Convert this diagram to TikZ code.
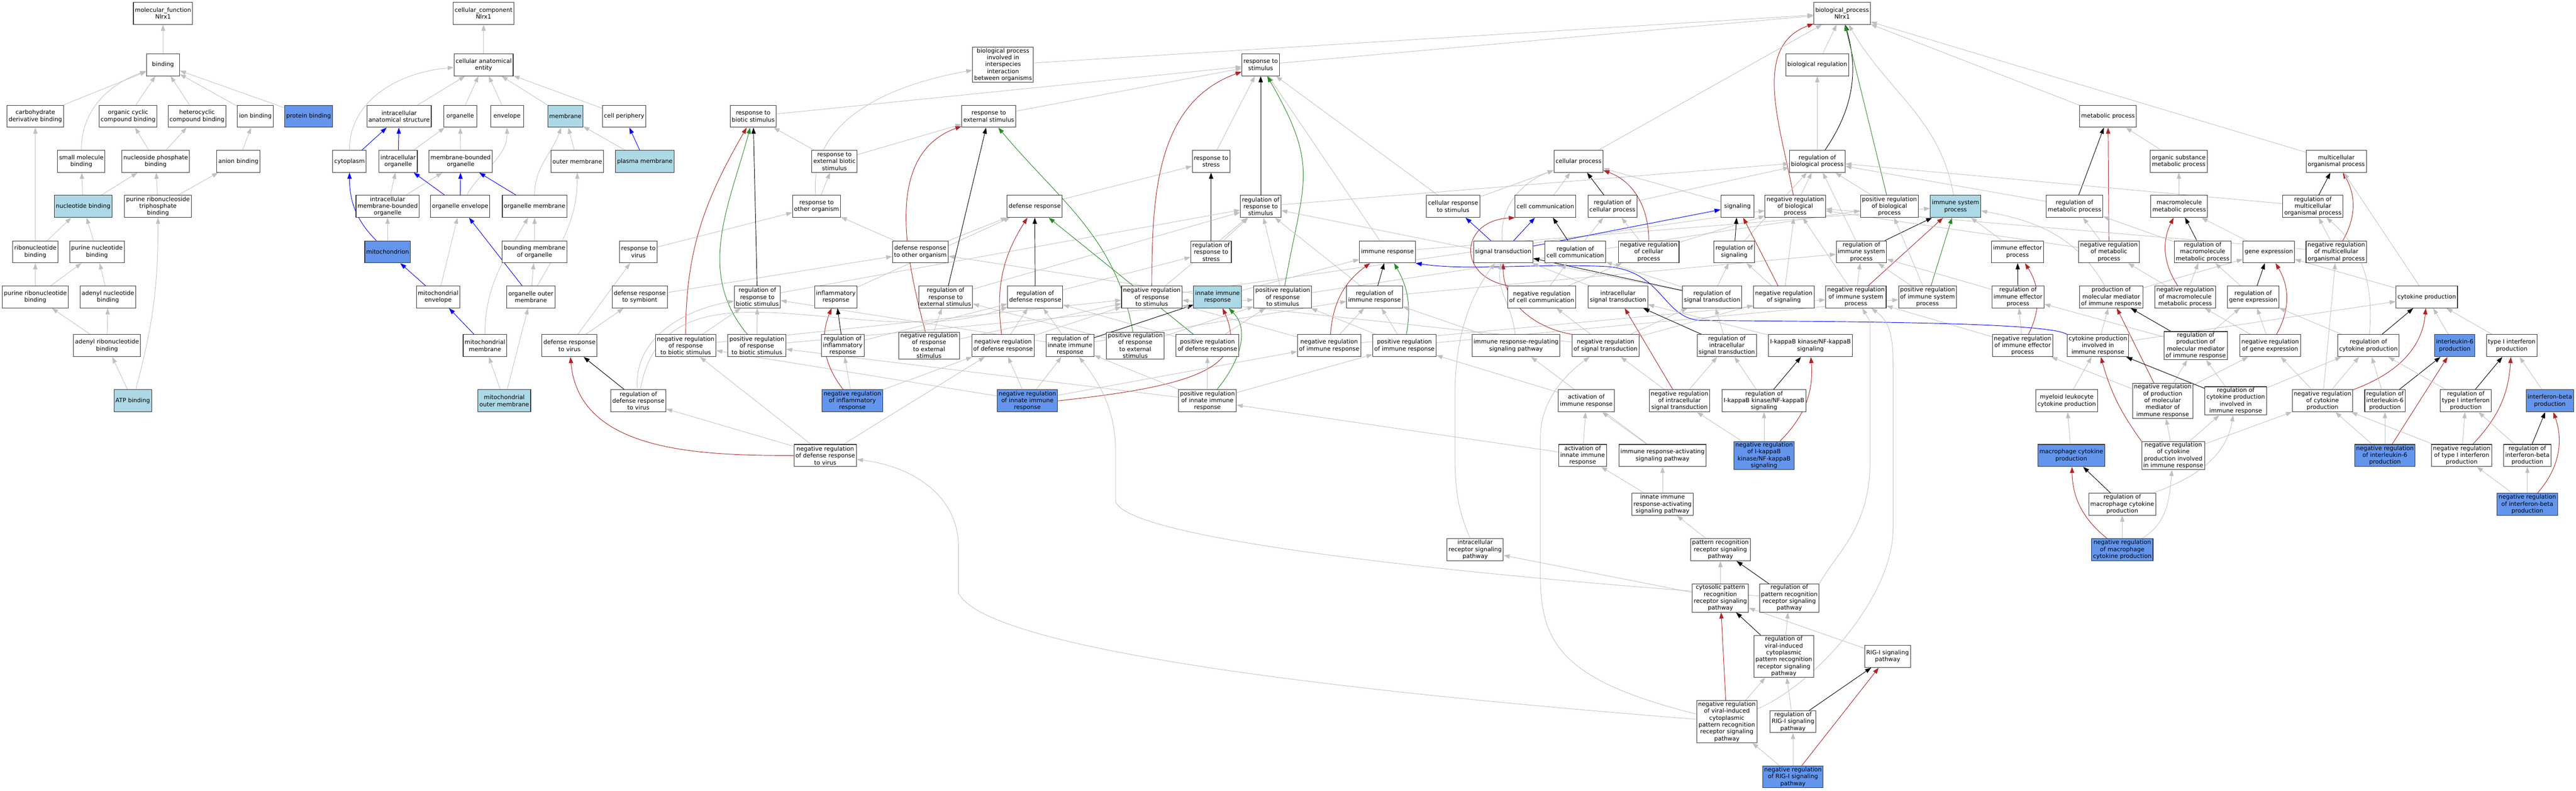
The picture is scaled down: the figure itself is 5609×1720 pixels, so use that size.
\documentclass[tikz,border=0pt]{standalone}
\usepackage{fontspec}
\newfontfamily\gofont{DejaVu Sans}
\usepackage{tikz}
\usetikzlibrary{arrows.meta,backgrounds}
\definecolor{lightblue}{HTML}{ADD8E6}
\definecolor{cornflower}{HTML}{6495ED}
\definecolor{firebrick}{HTML}{B22222}
\definecolor{forestgreen}{HTML}{228B22}
\definecolor{edgegray}{HTML}{C0C0C0}

\begin{document}
\begin{tikzpicture}[
      x=0.75pt, y=0.75pt,
      >={Triangle[length=10pt,width=7pt]}
    ]

    \tikzstyle{box} = [rectangle, draw=black!80, line width=0.9pt, fill=white, align=center, minimum width=54pt, minimum height=36pt, inner xsep=2.5pt, inner ysep=1.5pt, font=\gofont\fontsize{9.6}{11.25}\selectfont]
    \tikzstyle{lightbox} = [box, fill=lightblue]
    \tikzstyle{darkbox} = [box, fill=cornflower]

    \tikzstyle{isa} = [->, draw=edgegray, line width=0.75pt]
    \tikzstyle{partof} = [->, draw=blue, line width=0.8pt]
    \tikzstyle{regul} = [->, draw=black, line width=0.8pt]
    \tikzstyle{negreg} = [->, draw=firebrick, line width=0.8pt]
    \tikzstyle{posreg} = [->, draw=forestgreen, line width=0.8pt]

    \useasboundingbox (0,0) rectangle (5609,-1720);

    % molecular function
    \node [box] (molFunction) at (355,-29) {molecular\_function\\Nlrx1};
    \node [box] (binding) at (355,-141) {binding};
    \node [box] (carbDeriv) at (77,-253) {carbohydrate\\derivative binding};
    \node [box] (orgCyclic) at (279,-253) {organic cyclic\\compound binding};
    \node [box] (heteroCyclic) at (429,-253) {heterocyclic\\compound binding};
    \node [box] (ionBinding) at (556,-253) {ion binding};
    \node [darkbox] (proteinBinding) at (672,-253) {protein binding};
    \node [box] (smallMol) at (177,-351) {small molecule\\binding};
    \node [box] (nucPhos) at (339,-351) {nucleoside phosphate\\binding};
    \node [box] (anionBinding) at (519,-351) {anion binding};
    \node [lightbox] (nucleotide) at (181,-449) {nucleotide binding};
    \node [box] (purineTriP) at (344,-449) {purine ribonucleoside\\triphosphate\\binding};
    \node [box] (riboNuc) at (77,-548) {ribonucleotide\\binding};
    \node [box] (purineNuc) at (211,-548) {purine nucleotide\\binding};
    \node [box] (purineRibo) at (77,-646) {purine ribonucleotide\\binding};
    \node [box] (adenylNuc) at (235,-646) {adenyl nucleotide\\binding};
    \node [box] (adenylRibo) at (233,-752) {adenyl ribonucleotide\\binding};
    \node [lightbox] (atpBinding) at (289,-872) {ATP binding};

    % cellular component
    \node [box] (cellComp) at (1053,-29) {cellular\_component\\Nlrx1};
    \node [box] (cellAnat) at (1053,-141) {cellular anatomical\\entity};
    \node [box] (intraAnat) at (869,-253) {intracellular\\anatomical structure};
    \node [box] (organelle) at (1002,-253) {organelle};
    \node [box] (envelope) at (1104,-253) {envelope};
    \node [lightbox] (membrane) at (1231,-253) {membrane};
    \node [box] (cellPeriph) at (1359,-253) {cell periphery};
    \node [box] (cytoplasm) at (761,-351) {cytoplasm};
    \node [box] (intraOrg) at (867,-351) {intracellular\\organelle};
    \node [box] (memOrg) at (1003,-351) {membrane-bounded\\organelle};
    \node [box] (outerMem) at (1257,-351) {outer membrane};
    \node [lightbox] (plasmaMem) at (1404,-351) {plasma membrane};
    \node [box] (intraMemOrg) at (844,-449) {intracellular\\membrane-bounded\\organelle};
    \node [box] (orgEnv) at (1002,-449) {organelle envelope};
    \node [box] (orgMem) at (1164,-449) {organelle membrane};
    \node [darkbox] (mitochondrion) at (844,-548) {mitochondrion};
    \node [box] (boundMem) at (1164,-548) {bounding membrane\\of organelle};
    \node [box] (mitoEnv) at (954,-646) {mitochondrial\\envelope};
    \node [box] (orgOuter) at (1156,-646) {organelle outer\\membrane};
    \node [box] (mitoMem) at (1056,-752) {mitochondrial\\membrane};
    \node [lightbox] (mitoOuter) at (1098,-872) {mitochondrial\\outer membrane};

    % biological process
    \node [box] (bioProcess) at (4011,-29) {biological\_process\\Nlrx1};
    \node [box] (bioReg) at (3957,-141) {biological regulation};
    \node [box] (interSpecies) at (2184,-141) {biological process\\involved in\\interspecies\\interaction\\between organisms};
    \node [box] (respStim) at (2745,-141) {response to\\stimulus};
    \node [box] (respBiotic) at (1640,-253) {response to\\biotic stimulus};
    \node [box] (respExt) at (2153,-253) {response to\\external stimulus};
    \node [box] (metabolic) at (4590,-253) {metabolic process};
    \node [box] (respExtBiotic) at (1817,-351) {response to\\external biotic\\stimulus};
    \node [box] (respStress) at (2637,-351) {response to\\stress};
    \node [box] (cellProc) at (3437,-351) {cellular process};
    \node [box] (regBio) at (3957,-351) {regulation of\\biological process};
    \node [box] (orgSubst) at (4744,-351) {organic substance\\metabolic process};
    \node [box] (multiCell) at (5087,-351) {multicellular\\organismal process};
    \node [box] (respOther) at (1778,-449) {response to\\other organism};
    \node [box] (defResp) at (2253,-449) {defense response};
    \node [box] (regRespStim) at (2745,-449) {regulation of\\response to\\stimulus};
    \node [box] (cellResp) at (3164,-449) {cellular response\\to stimulus};
    \node [box] (cellComm) at (3365,-449) {cell communication};
    \node [box] (regCellProc) at (3511,-449) {regulation of\\cellular process};
    \node [box] (signaling) at (3783,-449) {signaling};
    \node [box] (negBio) at (3909,-449) {negative regulation\\of biological\\process};
    \node [box] (posBio) at (4114,-449) {positive regulation\\of biological\\process};
    \node [lightbox] (immSys) at (4258,-449) {immune system\\process};
    \node [box] (regMetab) at (4517,-449) {regulation of\\metabolic process};
    \node [box] (macroMetab) at (4745,-449) {macromolecule\\metabolic process};
    \node [box] (regMulti) at (5036,-449) {regulation of\\multicellular\\organismal process};
    \node [box] (respVirus) at (1390,-548) {response to\\virus};
    \node [box] (defOther) at (2004,-548) {defense response\\to other organism};
    \node [box] (regRespStress) at (2637,-548) {regulation of\\response to\\stress};
    \node [box] (immResp) at (3021,-548) {immune response};
    \node [box] (sigTrans) at (3273,-548) {signal transduction};
    \node [box] (regCellComm) at (3430,-548) {regulation of\\cell communication};
    \node [box] (negCellProc) at (3590,-548) {negative regulation\\of cellular\\process};
    \node [box] (regSignaling) at (3776,-548) {regulation of\\signaling};
    \node [box] (regImmSys) at (4053,-548) {regulation of\\immune system\\process};
    \node [box] (immEff) at (4393,-548) {immune effector\\process};
    \node [box] (negMetab) at (4592,-548) {negative regulation\\of metabolic\\process};
    \node [box] (regMacro) at (4796,-548) {regulation of\\macromolecule\\metabolic process};
    \node [box] (geneExpr) at (4940,-548) {gene expression};
    \node [box] (negMulti) at (5087,-548) {negative regulation\\of multicellular\\organismal process};
    \node [box] (defSymb) at (1393,-646) {defense response\\to symbiont};
    \node [box] (regRespBiotic) at (1649,-646) {regulation of\\response to\\biotic stimulus};
    \node [box] (inflam) at (1820,-646) {inflammatory\\response};
    \node [box] (regRespExt) at (2059,-646) {regulation of\\response to\\external stimulus};
    \node [box] (regDef) at (2254,-646) {regulation of\\defense response};
    \node [box] (negRespStim) at (2508,-646) {negative regulation\\of response\\to stimulus};
    \node [lightbox] (innate) at (2651,-646) {innate immune\\response};
    \node [box] (posRespStim) at (2793,-646) {positive regulation\\of response\\to stimulus};
    \node [box] (regImmResp) at (2993,-646) {regulation of\\immune response};
    \node [box] (negCellComm) at (3357,-646) {negative regulation\\of cell communication};
    \node [box] (intraSig) at (3523,-646) {intracellular\\signal transduction};
    \node [box] (regSigTrans) at (3728,-646) {regulation of\\signal transduction};
    \node [box] (negSignaling) at (3884,-646) {negative regulation\\of signaling};
    \node [box] (negImmSys) at (4041,-646) {negative regulation\\of immune system\\process};
    \node [box] (posImmSys) at (4197,-646) {positive regulation\\of immune system\\process};
    \node [box] (regImmEff) at (4394,-646) {regulation of\\immune effector\\process};
    \node [box] (prodMed) at (4597,-646) {production of\\molecular mediator\\of immune response};
    \node [box] (negMacro) at (4758,-646) {negative regulation\\of macromolecule\\metabolic process};
    \node [box] (regGene) at (4906,-646) {regulation of\\gene expression};
    \node [box] (cytokine) at (5284,-646) {cytokine production};
    \node [box] (defVirus) at (1240,-752) {defense response\\to virus};
    \node [box] (negRespBiotic) at (1493,-752) {negative regulation\\of response\\to biotic stimulus};
    \node [box] (posRespBiotic) at (1648,-752) {positive regulation\\of response\\to biotic stimulus};
    \node [box] (regInflam) at (1835,-752) {regulation of\\inflammatory\\response};
    \node [box] (negRespExt) at (2023,-752) {negative regulation\\of response\\to external\\stimulus};
    \node [box] (negDef) at (2184,-752) {negative regulation\\of defense response};
    \node [box] (regInnate) at (2330,-752) {regulation of\\innate immune\\response};
    \node [box] (posRespExt) at (2472,-752) {positive regulation\\of response\\to external\\stimulus};
    \node [box] (posDef) at (2629,-752) {positive regulation\\of defense response};
    \node [box] (negImmResp) at (2894,-752) {negative regulation\\of immune response};
    \node [box] (posImmResp) at (3058,-752) {positive regulation\\of immune response};
    \node [box] (irsPath) at (3301,-752) {immune response-regulating\\signaling pathway};
    \node [box] (negSigTrans) at (3496,-752) {negative regulation\\of signal transduction};
    \node [box] (regIntraSig) at (3760,-752) {regulation of\\intracellular\\signal transduction};
    \node [box] (ikkSig) at (3942,-752) {I-kappaB kinase/NF-kappaB\\signaling};
    \node [box] (negImmEff) at (4404,-752) {negative regulation\\of immune effector\\process};
    \node [box] (cytoImm) at (4568,-752) {cytokine production\\involved in\\immune response};
    \node [box] (regProdMed) at (4781,-752) {regulation of\\production of\\molecular mediator\\of immune response};
    \node [box] (negGene) at (4943,-752) {negative regulation\\of gene expression};
    \node [box] (regCyto) at (5157,-752) {regulation of\\cytokine production};
    \node [darkbox] (ilSix) at (5345,-752) {interleukin-6\\production};
    \node [box] (typeOne) at (5469,-752) {type I interferon\\production};
    \node [box] (regDefVirus) at (1390,-872) {regulation of\\defense response\\to virus};
    \node [darkbox] (negInflam) at (1856,-872) {negative regulation\\of inflammatory\\response};
    \node [darkbox] (negInnate) at (2237,-872) {negative regulation\\of innate immune\\response};
    \node [box] (posInnate) at (2629,-872) {positive regulation\\of innate immune\\response};
    \node [box] (actImm) at (3454,-872) {activation of\\immune response};
    \node [box] (negIntraSig) at (3657,-872) {negative regulation\\of intracellular\\signal transduction};
    \node [box] (regIkk) at (3841,-872) {regulation of\\I-kappaB kinase/NF-kappaB\\signaling};
    \node [box] (myeloid) at (4500,-872) {myeloid leukocyte\\cytokine production};
    \node [box] (negProdMed) at (4709,-872) {negative regulation\\of production\\of molecular\\mediator of\\immune response};
    \node [box] (regCytoImm) at (4868,-872) {regulation of\\cytokine production\\involved in\\immune response};
    \node [box] (negCyto) at (5057,-872) {negative regulation\\of cytokine\\production};
    \node [box] (regIlSix) at (5193,-872) {regulation of\\interleukin-6\\production};
    \node [box] (regTypeOne) at (5369,-872) {regulation of\\type I interferon\\production};
    \node [darkbox] (ifnBeta) at (5552,-872) {interferon-beta\\production};
    \node [box] (negDefVirus) at (1797,-991) {negative regulation\\of defense response\\to virus};
    \node [box] (actInnate) at (3446,-991) {activation of\\innate immune\\response};
    \node [box] (iraPath) at (3620,-991) {immune response-activating\\signaling pathway};
    \node [darkbox] (negIkk) at (3841,-991) {negative regulation\\of I-kappaB\\kinase/NF-kappaB\\signaling};
    \node [darkbox] (macrophage) at (4510,-991) {macrophage cytokine\\production};
    \node [box] (negCytoImm) at (4732,-991) {negative regulation\\of cytokine\\production involved\\in immune response};
    \node [darkbox] (negIlSix) at (5193,-991) {negative regulation\\of interleukin-6\\production};
    \node [box] (negTypeOne) at (5360,-991) {negative regulation\\of type I interferon\\production};
    \node [box] (regIfnBeta) at (5503,-991) {regulation of\\interferon-beta\\production};
    \node [box] (innatePath) at (3620,-1097) {innate immune\\response-activating\\signaling pathway};
    \node [box] (regMacrophage) at (4621,-1097) {regulation of\\macrophage cytokine\\production};
    \node [darkbox] (negIfnBeta) at (5503,-1097) {negative regulation\\of interferon-beta\\production};
    \node [box] (intraRec) at (3212,-1196) {intracellular\\receptor signaling\\pathway};
    \node [box] (prrPath) at (3746,-1196) {pattern recognition\\receptor signaling\\pathway};
    \node [darkbox] (negMacrophage) at (4621,-1196) {negative regulation\\of macrophage\\cytokine production};
    \node [box] (cytoPrr) at (3746,-1301) {cytosolic pattern\\recognition\\receptor signaling\\pathway};
    \node [box] (regPrr) at (3896,-1301) {regulation of\\pattern recognition\\receptor signaling\\pathway};
    \node [box] (regViral) at (3884,-1428) {regulation of\\viral-induced\\cytoplasmic\\pattern recognition\\receptor signaling\\pathway};
    \node [box] (rigPath) at (4110,-1428) {RIG-I signaling\\pathway};
    \node [box] (negViral) at (3760,-1570) {negative regulation\\of viral-induced\\cytoplasmic\\pattern recognition\\receptor signaling\\pathway};
    \node [box] (regRig) at (3904,-1570) {regulation of\\RIG-I signaling\\pathway};
    \node [darkbox] (negRig) at (3904,-1690) {negative regulation\\of RIG-I signaling\\pathway};

    \begin{scope}[on background layer]
    % molecular function
    \draw [isa] (binding) -- (molFunction);
    \draw [isa] (carbDeriv) -- (binding);
    \draw [isa] (smallMol) to[out=90,in=200] (binding);
    \draw [isa] (orgCyclic) -- (binding);
    \draw [isa] (heteroCyclic) -- (binding);
    \draw [isa] (ionBinding) -- (binding);
    \draw [isa] (proteinBinding) -- (binding);
    \draw [isa] (nucPhos) -- (orgCyclic);
    \draw [isa] (nucPhos) -- (heteroCyclic);
    \draw [isa] (anionBinding) -- (ionBinding);
    \draw [isa] (nucleotide) -- (smallMol);
    \draw [isa] (nucleotide) -- (nucPhos);
    \draw [isa] (purineTriP) -- (nucPhos);
    \draw [isa] (purineTriP) -- (anionBinding);
    \draw [isa] (riboNuc) -- (carbDeriv);
    \draw [isa] (riboNuc) -- (nucleotide);
    \draw [isa] (purineNuc) -- (nucleotide);
    \draw [isa] (purineRibo) -- (riboNuc);
    \draw [isa] (purineRibo) -- (purineNuc);
    \draw [isa] (adenylNuc) -- (purineNuc);
    \draw [isa] (adenylRibo) -- (purineRibo);
    \draw [isa] (adenylRibo) -- (adenylNuc);
    \draw [isa] (atpBinding) -- (adenylRibo);
    \draw [isa] (atpBinding) to[out=75,in=-90] (purineTriP);

    % cellular component
    \draw [isa] (cellAnat) -- (cellComp);
    \draw [isa] (intraAnat) -- (cellAnat);
    \draw [isa] (organelle) -- (cellAnat);
    \draw [isa] (envelope) -- (cellAnat);
    \draw [isa] (membrane) -- (cellAnat);
    \draw [isa] (cellPeriph) -- (cellAnat);
    \draw [isa] (cytoplasm) to[out=90,in=185] (cellAnat);
    \draw [partof] (cytoplasm) -- (intraAnat);
    \draw [partof] (intraOrg) -- (intraAnat);
    \draw [isa] (intraOrg) -- (organelle);
    \draw [isa] (memOrg) -- (organelle);
    \draw [isa] (outerMem) -- (membrane);
    \draw [isa] (plasmaMem) -- (membrane);
    \draw [partof] (plasmaMem) -- (cellPeriph);
    \draw [isa] (intraMemOrg) -- (intraOrg);
    \draw [isa] (intraMemOrg) -- (memOrg);
    \draw [partof] (orgEnv) -- (intraOrg);
    \draw [partof] (orgEnv) -- (memOrg);
    \draw [isa] (orgEnv) to[out=60,in=-90] (envelope);
    \draw [partof] (orgMem) -- (memOrg);
    \draw [isa] (orgMem) to[out=90,in=-110] (membrane);
    \draw [isa] (boundMem) -- (orgMem);
    \draw [partof] (mitochondrion) to[out=135,in=-90] (cytoplasm);
    \draw [isa] (mitochondrion) -- (intraMemOrg);
    \draw [isa] (mitoEnv) -- (orgEnv);
    \draw [partof] (mitoEnv) -- (mitochondrion);
    \draw [partof] (orgOuter) -- (orgEnv);
    \draw [isa] (orgOuter) -- (boundMem);
    \draw [isa] (orgOuter) to[out=60,in=-90] (outerMem);
    \draw [partof] (mitoMem) -- (mitoEnv);
    \draw [isa] (mitoMem) to[out=90,in=-120] (orgMem);
    \draw [isa] (mitoOuter) -- (mitoMem);
    \draw [isa] (mitoOuter) -- (orgOuter);

    % biological process, top
    \draw [isa] (bioReg) -- (bioProcess);
    \draw [isa] (regBio) -- (bioReg);
    \draw [regul] (regBio) to[bend right=25] (bioProcess);
    \draw [isa] (negBio) -- (regBio);
    \draw [negreg] (negBio) to[out=100,in=200] (bioProcess);
    \draw [isa] (posBio) -- (regBio);
    \draw [posreg] (posBio) -- (bioProcess);
    \draw [isa] (immSys) to[out=100,in=-60] (bioProcess);
    \draw [isa] (respStim) -- (bioProcess);
    \draw [isa] (cellProc) -- (bioProcess);
    \draw [isa] (metabolic) -- (bioProcess);
    \draw [isa] (multiCell) -- (bioProcess);
    \draw [isa] (interSpecies) -- (bioProcess);

    % responses
    \draw [isa] (respExt) -- (respStim);
    \draw [isa] (respBiotic) -- (respStim);
    \draw [isa] (respStress) -- (respStim);
    \draw [isa] (respExtBiotic) -- (respBiotic);
    \draw [isa] (respExtBiotic) -- (respExt);
    \draw [isa] (respOther) -- (respExtBiotic);
    \draw [isa] (respOther) to[out=95,in=190] (interSpecies);
    \draw [isa] (respVirus) -- (respOther);
    \draw [isa] (defResp) -- (respStress);
    \draw [isa] (defOther) -- (defResp);
    \draw [isa] (defOther) -- (respOther);
    \draw [isa] (defSymb) -- (defOther);
    \draw [isa] (defVirus) -- (respVirus);
    \draw [isa] (defVirus) -- (defSymb);
    \draw [isa] (inflam) -- (defResp);
    \draw [isa] (innate) -- (defOther);
    \draw [isa] (innate) -- (immResp);
    \draw [isa] (immResp) -- (immSys);
    \draw [isa] (immResp) -- (respStim);

    % regulation of responses
    \draw [isa] (regRespStim) -- (regBio);
    \draw [regul] (regRespStim) -- (respStim);
    \draw [isa] (regRespStress) -- (regRespStim);
    \draw [regul] (regRespStress) -- (respStress);
    \draw [isa] (regRespExt) -- (regRespStim);
    \draw [regul] (regRespExt) -- (respExt);
    \draw [isa] (regRespBiotic) -- (regRespStim);
    \draw [regul] (regRespBiotic) -- (respBiotic);
    \draw [isa] (regDef) -- (regRespStress);
    \draw [regul] (regDef) -- (defResp);
    \draw [isa] (negRespStim) -- (regRespStim);
    \draw [isa] (negRespStim) -- (negBio);
    \draw [negreg] (negRespStim) to[out=90,in=200] (respStim);
    \draw [isa] (posRespStim) -- (regRespStim);
    \draw [isa] (posRespStim) -- (posBio);
    \draw [posreg] (posRespStim) to[out=80,in=-60,looseness=1.3] (respStim);
    \draw [isa] (negRespExt) -- (regRespExt);
    \draw [isa] (negRespExt) -- (negRespStim);
    \draw [negreg] (negRespExt) to[out=105,in=200] (respExt);
    \draw [isa] (posRespExt) -- (regRespExt);
    \draw [isa] (posRespExt) -- (posRespStim);
    \draw [posreg] (posRespExt) to[out=100,in=-50] (respExt);
    \draw [isa] (negRespBiotic) -- (regRespBiotic);
    \draw [isa] (negRespBiotic) -- (negRespStim);
    \draw [negreg] (negRespBiotic) to[out=90,in=-120] (respBiotic);
    \draw [isa] (posRespBiotic) -- (regRespBiotic);
    \draw [isa] (posRespBiotic) -- (posRespStim);
    \draw [posreg] (posRespBiotic) to[out=130,in=-105] (respBiotic);
    \draw [isa] (negDef) -- (regDef);
    \draw [isa] (negDef) -- (negRespStim);
    \draw [negreg] (negDef) to[bend left=20] (defResp);
    \draw [isa] (posDef) -- (regDef);
    \draw [isa] (posDef) -- (posRespStim);
    \draw [posreg] (posDef) -- (defResp);
    \draw [isa] (regInnate) -- (regImmResp);
    \draw [isa] (regInnate) -- (regDef);
    \draw [isa] (regInnate) -- (regRespBiotic);
    \draw [regul] (regInnate) -- (innate);
    \draw [isa] (negInnate) -- (regInnate);
    \draw [isa] (negInnate) -- (negImmResp);
    \draw [isa] (negInnate) -- (negDef);
    \draw [isa] (negInnate) -- (negRespBiotic);
    \draw [negreg] (negInnate.east) .. controls (2600,-840) and (2720,-800) .. (innate);
    \draw [isa] (posInnate) -- (regInnate);
    \draw [isa] (posInnate) -- (posImmResp);
    \draw [isa] (posInnate) -- (posDef);
    \draw [isa] (posInnate) -- (posRespBiotic);
    \draw [posreg] (posInnate) to[out=50,in=-45] (innate);
    \draw [isa] (regInflam) -- (regDef);
    \draw [regul] (regInflam) -- (inflam);
    \draw [isa] (negInflam) -- (regInflam);
    \draw [isa] (negInflam) -- (negDef);
    \draw [negreg] (negInflam) to[bend left=30] (inflam);
    \draw [isa] (regDefVirus) to[out=80,in=200] (regDef);
    \draw [isa] (regDefVirus) to[out=95,in=190] (regRespBiotic);
    \draw [regul] (regDefVirus) -- (defVirus);
    \draw [isa] (negDefVirus) -- (regDefVirus);
    \draw [isa] (negDefVirus) -- (negDef);
    \draw [isa] (negDefVirus) -- (negRespBiotic);
    \draw [negreg] (negDefVirus) to[out=180,in=-85] (defVirus);

    % immune system
    \draw [isa] (regImmSys) -- (regBio);
    \draw [regul] (regImmSys) -- (immSys);
    \draw [isa] (negImmSys) -- (regImmSys);
    \draw [isa] (negImmSys) -- (negBio);
    \draw [negreg] (negImmSys) -- (immSys);
    \draw [isa] (posImmSys) -- (regImmSys);
    \draw [isa] (posImmSys) -- (posBio);
    \draw [posreg] (posImmSys) -- (immSys);
    \draw [isa] (regImmResp) -- (regImmSys);
    \draw [isa] (regImmResp) -- (regRespStim);
    \draw [regul] (regImmResp) -- (immResp);
    \draw [isa] (negImmResp) -- (regImmResp);
    \draw [isa] (negImmResp) -- (negImmSys);
    \draw [isa] (negImmResp) -- (negRespStim);
    \draw [negreg] (negImmResp) to[bend left=25] (immResp);
    \draw [isa] (posImmResp) -- (regImmResp);
    \draw [isa] (posImmResp) -- (posImmSys);
    \draw [isa] (posImmResp) -- (posRespStim);
    \draw [posreg] (posImmResp) to[bend right=20] (immResp);
    \draw [isa] (immEff) -- (immSys);
    \draw [isa] (regImmEff) -- (regImmSys);
    \draw [regul] (regImmEff) -- (immEff);
    \draw [isa] (negImmEff) -- (regImmEff);
    \draw [isa] (negImmEff) -- (negImmSys);
    \draw [negreg] (negImmEff) to[bend right=30] (immEff);
    \draw [isa] (prodMed) to[out=120,in=-10] (immSys);
    \draw [isa] (prodMed) -- (geneExpr);
    \draw [isa] (cytoImm) -- (prodMed);
    \draw [isa] (cytoImm) -- (cytokine);
    \draw [partof] (cytoImm.north west) .. controls (4460,-700) and (4000,-700) .. (3700,-697) .. controls (3620,-690) and (3620,-590) .. (3500,-580) .. controls (3350,-572) and (3200,-590) .. (immResp.south east);
    \draw [isa] (regProdMed) -- (regImmEff);
    \draw [isa] (regProdMed) -- (regGene);
    \draw [regul] (regProdMed) -- (prodMed);
    \draw [isa] (negProdMed) -- (regProdMed);
    \draw [isa] (negProdMed) -- (negImmEff);
    \draw [isa] (negProdMed) -- (negGene);
    \draw [negreg] (negProdMed) -- (prodMed);
    \draw [isa] (regCytoImm) -- (regProdMed);
    \draw [isa] (regCytoImm) -- (regCyto);
    \draw [regul] (regCytoImm) -- (cytoImm);
    \draw [isa] (negCytoImm) -- (regCytoImm);
    \draw [isa] (negCytoImm) -- (negProdMed);
    \draw [isa] (negCytoImm) -- (negCyto);
    \draw [negreg] (negCytoImm.north west) to[bend left=10] (cytoImm);
    \draw [isa] (myeloid) -- (cytoImm);
    \draw [isa] (macrophage) -- (myeloid);
    \draw [isa] (regMacrophage) to[out=20,in=-100] (regCytoImm);
    \draw [regul] (regMacrophage) -- (macrophage);
    \draw [isa] (negMacrophage) -- (regMacrophage);
    \draw [isa] (negMacrophage) to[out=30,in=-95] (negCytoImm);
    \draw [negreg] (negMacrophage) to[bend left=25] (macrophage);

    % signaling
    \draw [isa] (cellResp) -- (respStim);
    \draw [isa] (cellResp) -- (cellProc);
    \draw [isa] (cellComm) -- (cellProc);
    \draw [isa] (signaling) -- (cellProc);
    \draw [partof] (sigTrans) -- (cellResp);
    \draw [partof] (sigTrans) -- (cellComm);
    \draw [partof] (sigTrans) -- (signaling);
    \draw [isa] (sigTrans) to[out=95,in=200] (cellProc);
    \draw [isa] (regCellProc) -- (regBio);
    \draw [regul] (regCellProc) -- (cellProc);
    \draw [isa] (regCellComm) -- (regCellProc);
    \draw [regul] (regCellComm) -- (cellComm);
    \draw [isa] (negCellProc) -- (regCellProc);
    \draw [isa] (negCellProc) -- (negBio);
    \draw [negreg] (negCellProc) to[out=90,in=-20] (cellProc);
    \draw [isa] (regSignaling) -- (regBio);
    \draw [regul] (regSignaling) -- (signaling);
    \draw [isa] (regSigTrans) -- (regSignaling);
    \draw [isa] (regSigTrans) -- (regCellComm);
    \draw [isa] (regSigTrans) -- (regRespStim);
    \draw [regul] (regSigTrans) -- (sigTrans);
    \draw [isa] (negCellComm) -- (regCellComm);
    \draw [isa] (negCellComm) -- (negCellProc);
    \draw [negreg] (negCellComm.north west) .. controls (3170,-600) and (3180,-480) .. (cellComm.south west);
    \draw [isa] (negSignaling) -- (regSignaling);
    \draw [isa] (negSignaling) -- (negBio);
    \draw [negreg] (negSignaling) -- (signaling);
    \draw [isa] (negSigTrans) -- (regSigTrans);
    \draw [isa] (negSigTrans) -- (negCellComm);
    \draw [isa] (negSigTrans) -- (negSignaling);
    \draw [isa] (negSigTrans) -- (negRespStim);
    \draw [negreg] (negSigTrans.north west) to[out=170,in=-90] (sigTrans.south);
    \draw [isa] (intraSig) -- (sigTrans);
    \draw [isa] (regIntraSig) -- (regSigTrans);
    \draw [regul] (regIntraSig) -- (intraSig);
    \draw [isa] (negIntraSig) -- (regIntraSig);
    \draw [isa] (negIntraSig) -- (negSigTrans);
    \draw [negreg] (negIntraSig) -- (intraSig);
    \draw [isa] (ikkSig) -- (intraSig);
    \draw [isa] (regIkk) -- (regIntraSig);
    \draw [regul] (regIkk) -- (ikkSig);
    \draw [isa] (negIkk) -- (regIkk);
    \draw [isa] (negIkk) -- (negIntraSig);
    \draw [negreg] (negIkk) to[bend right=25] (ikkSig);
    \draw [isa] (irsPath) to[out=95,in=-100] (sigTrans);
    \draw [isa] (irsPath) -- (regImmResp);
    \draw [isa] (actImm) -- (posImmResp);
    \draw [isa] (iraPath) -- (irsPath);
    \draw [isa] (iraPath) -- (actImm);
    \draw [isa] (actInnate) -- (actImm);
    \draw [isa] (actInnate) -- (posInnate);
    \draw [isa] (innatePath) -- (iraPath);
    \draw [isa] (innatePath) -- (actInnate);
    \draw [isa] (intraRec) .. controls (3170,-1100) and (3168,-1050) .. (3168,-980) -- (3168,-860) .. controls (3168,-700) and (3220,-620) .. (sigTrans);
    \draw [isa] (prrPath) -- (innatePath);
    \draw [isa] (cytoPrr) -- (prrPath);
    \draw [isa] (cytoPrr) -- (intraRec);
    \draw [isa] (regPrr) .. controls (3300,-1260) and (2450,-1180) .. (2429,-1090) -- (2429,-980) .. controls (2429,-900) and (2400,-840) .. (regInnate);
    \draw [isa] (regPrr.north east) .. controls (4000,-1200) and (4072,-1150) .. (4072,-1000) -- (4072,-700) -- (negImmSys);
    \draw [regul] (regPrr) -- (prrPath);
    \draw [isa] (regViral) -- (regPrr);
    \draw [regul] (regViral) -- (cytoPrr);
    \draw [isa] (negViral) -- (regViral);
    \draw [negreg] (negViral) -- (cytoPrr);
    \draw [isa] (negViral) .. controls (3000,-1510) and (2150,-1420) .. (2087,-1290) -- (2087,-1190) .. controls (2087,-1080) and (1990,-1015) .. (negDefVirus);
    \draw [isa] (negViral) .. controls (3400,-1480) and (3354,-1400) .. (3354,-1250) -- (3354,-950) .. controls (3354,-880) and (3400,-820) .. (negSigTrans);
    \draw [isa] (negViral) .. controls (3950,-1490) and (4122,-1300) .. (4122,-1150) -- (4122,-800) .. controls (4122,-730) and (4115,-700) .. (negImmSys);
    \draw [isa] (rigPath) -- (cytoPrr);
    \draw [isa] (regRig) -- (regViral);
    \draw [regul] (regRig) -- (rigPath);
    \draw [isa] (negRig) -- (regRig);
    \draw [isa] (negRig) -- (negViral);
    \draw [negreg] (negRig) -- (rigPath);

    % metabolism, gene expression, cytokines
    \draw [isa] (orgSubst) -- (metabolic);
    \draw [isa] (macroMetab) -- (orgSubst);
    \draw [isa] (regMetab) -- (regBio);
    \draw [regul] (regMetab) -- (metabolic);
    \draw [isa] (negMetab) -- (regMetab);
    \draw [isa] (negMetab) -- (negBio);
    \draw [negreg] (negMetab) -- (metabolic);
    \draw [isa] (regMacro) -- (regMetab);
    \draw [regul] (regMacro) -- (macroMetab);
    \draw [isa] (negMacro) -- (regMacro);
    \draw [isa] (negMacro) -- (negMetab);
    \draw [negreg] (negMacro) to[bend left=30] (macroMetab);
    \draw [isa] (geneExpr) -- (macroMetab);
    \draw [isa] (regGene) -- (regMacro);
    \draw [regul] (regGene) -- (geneExpr);
    \draw [isa] (negGene) -- (regGene);
    \draw [isa] (negGene) -- (negMacro);
    \draw [negreg] (negGene) to[bend right=30] (geneExpr);
    \draw [isa] (regMulti) -- (regBio);
    \draw [regul] (regMulti) -- (multiCell);
    \draw [isa] (negMulti) -- (regMulti);
    \draw [isa] (negMulti) -- (negBio);
    \draw [negreg] (negMulti) to[bend right=30] (multiCell);
    \draw [isa] (cytokine) -- (multiCell);
    \draw [isa] (cytokine) -- (geneExpr);
    \draw [isa] (regCyto) to[out=85,in=-40] (regMulti);
    \draw [isa] (regCyto) -- (regGene);
    \draw [regul] (regCyto) -- (cytokine);
    \draw [isa] (negCyto) -- (regCyto);
    \draw [isa] (negCyto) -- (negMulti);
    \draw [isa] (negCyto) -- (negGene);
    \draw [negreg] (negCyto) to[out=20,in=-95] (cytokine);
    \draw [isa] (ilSix) -- (cytokine);
    \draw [isa] (regIlSix) -- (regCyto);
    \draw [regul] (regIlSix) -- (ilSix);
    \draw [isa] (negIlSix) -- (regIlSix);
    \draw [isa] (negIlSix) -- (negCyto);
    \draw [negreg] (negIlSix) -- (ilSix);
    \draw [isa] (typeOne) -- (cytokine);
    \draw [isa] (regTypeOne) -- (regCyto);
    \draw [regul] (regTypeOne) -- (typeOne);
    \draw [isa] (negTypeOne) -- (regTypeOne);
    \draw [isa] (negTypeOne) -- (negCyto);
    \draw [negreg] (negTypeOne) to[bend right=20] (typeOne);
    \draw [isa] (ifnBeta) -- (typeOne);
    \draw [isa] (regIfnBeta) -- (regTypeOne);
    \draw [regul] (regIfnBeta) -- (ifnBeta);
    \draw [isa] (negIfnBeta) -- (regIfnBeta);
    \draw [isa] (negIfnBeta) -- (negTypeOne);
    \draw [negreg] (negIfnBeta) to[bend right=30] (ifnBeta);
    \end{scope}

\end{tikzpicture}
\end{document}
